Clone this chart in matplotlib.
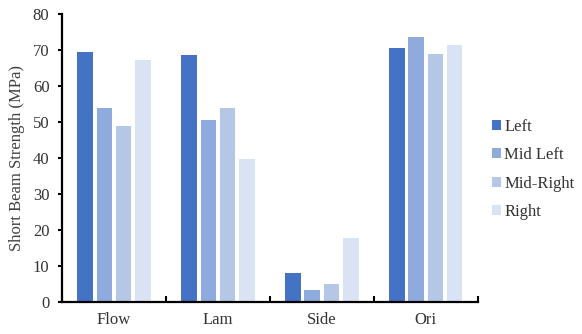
import matplotlib
matplotlib.use("Agg")
import matplotlib.pyplot as plt
import numpy as np

categories = ["Flow", "Lam", "Side", "Ori"]
series = ["Left", "Mid Left", "Mid-Right", "Right"]
left = [69.5, 68.7, 8.0, 70.5]
mid_left = [53.8, 50.6, 3.2, 73.5]
mid_right = [48.9, 53.8, 4.9, 68.8]
right = [67.3, 39.7, 17.7, 71.3]
yticks = [0, 10, 20, 30, 40, 50, 60, 70, 80]

colors = ["#4472C4", "#8FAADC", "#B4C7E7", "#DAE3F3"]
values = [left, mid_left, mid_right, right]

plt.rcParams['font.family'] = ['Liberation Serif', 'DejaVu Serif']

fig = plt.figure(figsize=(5.82, 3.34), dpi=100)
ax = fig.add_axes([0.1065, 0.0958, 0.7145, 0.862])

x = np.arange(len(categories))
step = 0.185
width = 0.15
handles = []
for i, (vals, c, name) in enumerate(zip(values, colors, series)):
    h = ax.bar(x + (i - 1.5) * step, vals, width=width, color=c, label=name)
    handles.append(h)

ax.set_xlim(-0.5, len(categories) - 0.5)
ax.set_ylim(0, 80)
ax.set_yticks(yticks)
ax.set_xticks(np.arange(len(categories) + 1) - 0.5)
ax.set_xticklabels([])
ax.set_xticks(x, minor=True)
ax.set_xticklabels(categories, minor=True, fontsize=12)
ax.tick_params(axis='x', which='minor', length=0, pad=7)
ax.tick_params(axis='x', which='major', direction='in', length=4, width=1.5)
ax.tick_params(axis='y', direction='out', length=3, width=1.5, labelsize=12, pad=6)
for s in ["top", "right"]:
    ax.spines[s].set_visible(False)
for s in ["left", "bottom"]:
    ax.spines[s].set_linewidth(1.6)
ax.set_ylabel("Short Beam Strength (MPa)", fontsize=12, color="#404040", labelpad=6)
for lbl in ax.get_yticklabels() + ax.get_xticklabels(minor=True):
    lbl.set_color("#333333")

leg = fig.legend(handles=handles, labels=series, loc="upper left",
                 bbox_to_anchor=(0.845, 0.645), frameon=False, fontsize=12,
                 handlelength=0.55, handleheight=0.55, handletextpad=0.2,
                 labelspacing=0.75, labelcolor="#333333",
                 borderpad=0, borderaxespad=0)

fig.savefig("out.png", dpi=100)
